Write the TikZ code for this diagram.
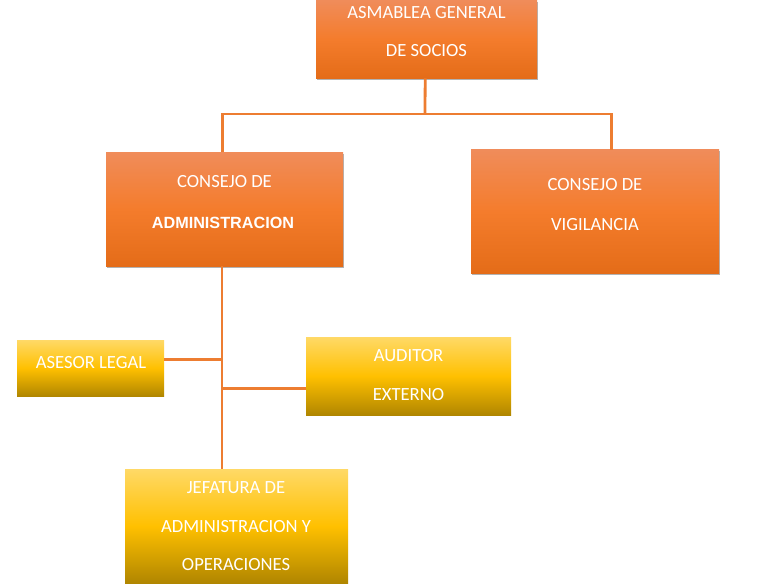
\documentclass[tikz,border=0pt]{standalone}
\usepackage{fontspec}
\setmainfont{Carlito}
\newfontfamily\boldarial{Liberation Sans}
\usetikzlibrary{shadows}
\definecolor{otop}{RGB}{240,140,90}
\definecolor{omid}{RGB}{244,124,44}
\definecolor{obot}{RGB}{228,108,24}
\definecolor{ytop}{RGB}{255,217,102}
\definecolor{ymid}{RGB}{255,192,0}
\definecolor{ybot}{RGB}{176,134,0}
\definecolor{conn}{RGB}{237,125,49}
\begin{document}
\begin{tikzpicture}[x=1pt,y=-1pt,
  obox/.style={rectangle,inner sep=0pt,anchor=north west,
    top color=otop,bottom color=obot,middle color=omid,
    drop shadow={shadow xshift=1.2pt,shadow yshift=-1.5pt,opacity=.3,fill=black}},
  ybox/.style={rectangle,inner sep=0pt,anchor=north west,
    top color=ytop,bottom color=ybot,middle color=ymid},
  txt/.style={anchor=base,text=white,inner sep=0pt,font=\fontsize{18.6}{20}\selectfont},
  btxt/.style={anchor=base,text=white,inner sep=0pt,font=\boldarial\bfseries\fontsize{16.2}{18}\selectfont},
  link/.style={draw=conn,line width=2.8pt}]
\useasboundingbox (0,0) rectangle (761,586);
% boxes
\node[obox,minimum width=221pt,minimum height=78pt] (asam) at (316,0) {};
\node[obox,minimum width=237pt,minimum height=114pt] (cda) at (106,152) {};
\node[obox,minimum width=248pt,minimum height=124pt] (cdv) at (471,149.5) {};
\node[ybox,minimum width=147pt,minimum height=56pt] (ase) at (17,340) {};
\node[ybox,minimum width=205pt,minimum height=78pt] (aud) at (306,337) {};
\node[ybox,minimum width=223pt,minimum height=114pt] (jef) at (125,469) {};
% texts
\node[txt] (t1) at (426.5,18.3) {ASMABLEA GENERAL};
\node[txt] (t2) at (426.5,56.7) {DE SOCIOS};
\node[txt] (t3) at (224.5,187.7) {CONSEJO DE};
\node[btxt] (t4) at (223,228) {ADMINISTRACION};
\node[txt] (t5) at (595,190) {CONSEJO DE};
\node[txt] (t6) at (595,230) {VIGILANCIA};
\node[txt] (t7) at (91,368.7) {ASESOR LEGAL};
\node[txt] (t8) at (408.5,361.3) {AUDITOR};
\node[txt] (t9) at (408.5,400) {EXTERNO};
\node[txt] (t10) at (236,493.3) {JEFATURA DE};
\node[txt] (t11) at (236,532.3) {ADMINISTRACION Y};
\node[txt] (t12) at (236,570.7) {OPERACIONES};
% connectors
\coordinate (j1) at (425,114);
\coordinate (sp) at (222,266);
\draw[link] ([xshift=-1.5pt]asam.south) -- (j1);
\draw[link] ([xshift=-2.5pt]cda.north) |- (j1);
\draw[link] ([xshift=16pt]cdv.north) |- (j1);
\draw[link] (sp) -- (sp |- jef.north);
\draw[link] ([yshift=9pt]ase.east) -- ([yshift=9pt]ase.east -| sp);
\draw[link] (sp |- aud.west) ++(0,12) -- ([yshift=-12pt]aud.west);
\end{tikzpicture}
\end{document}
